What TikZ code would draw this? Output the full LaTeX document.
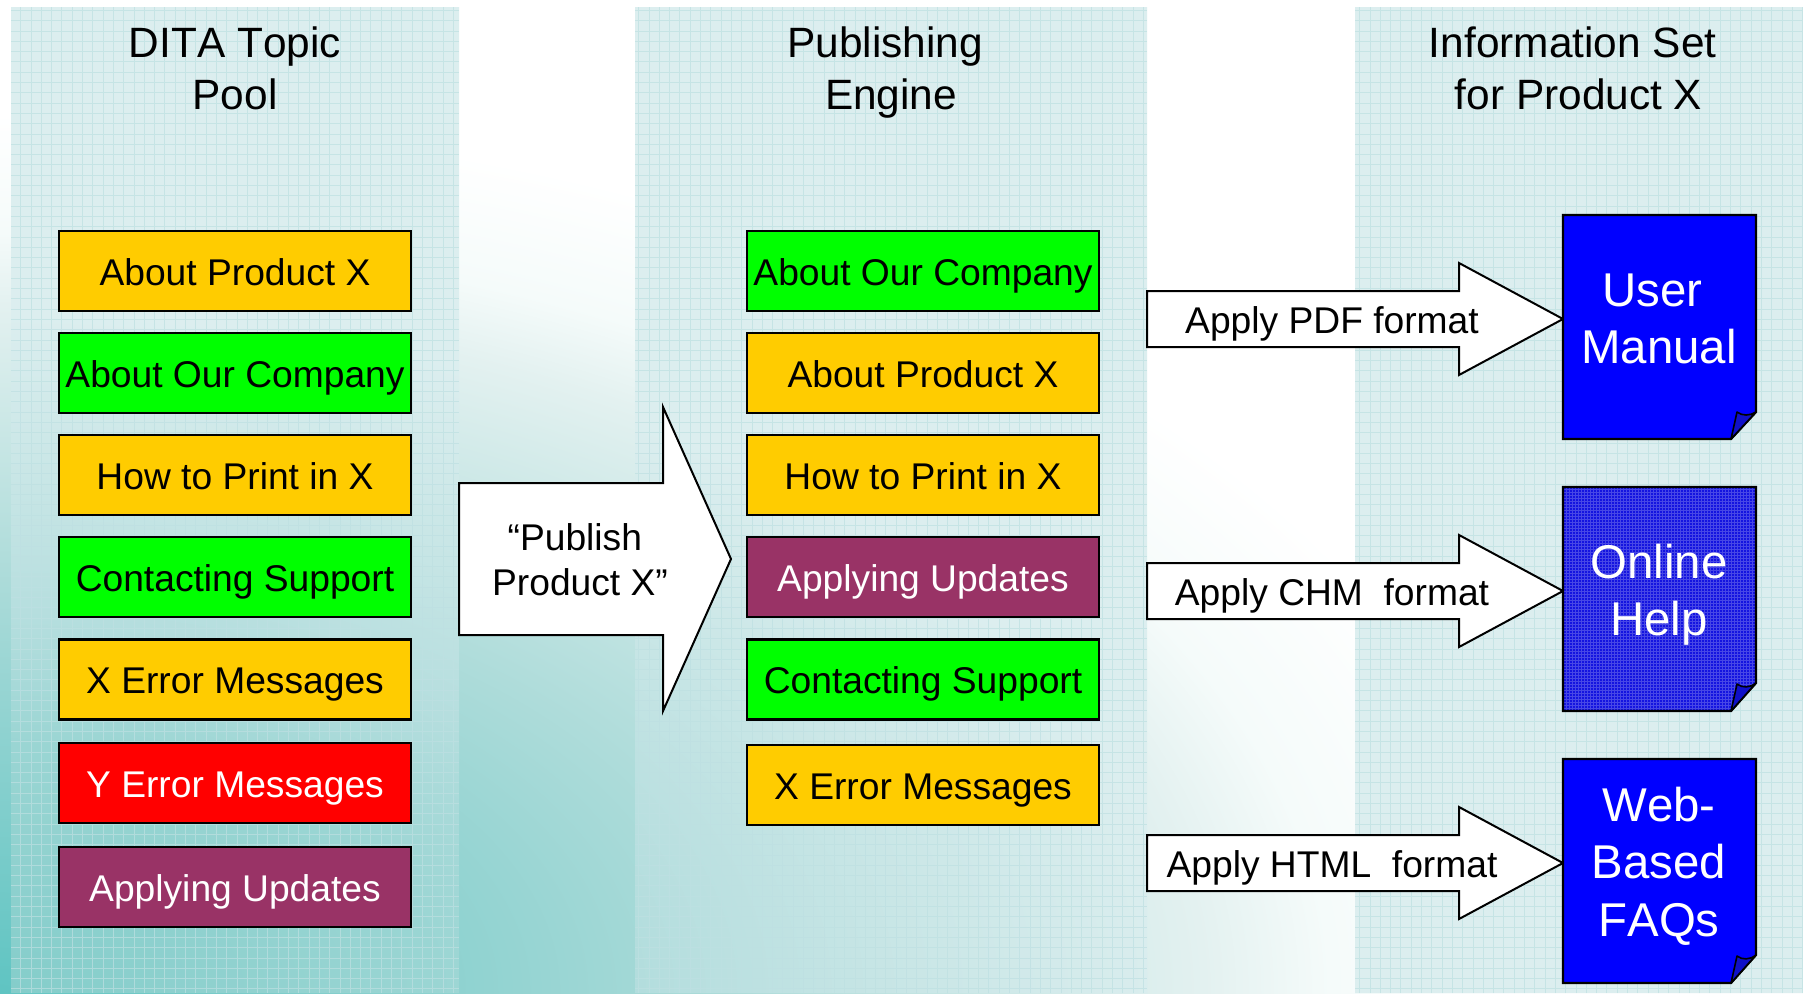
\documentclass[tikz,border=0pt]{standalone}
\usepackage{fontspec}
\setmainfont[Kerning=Off]{Liberation Sans}
\definecolor{gold}{HTML}{FFCC00}
\definecolor{lime}{HTML}{00FF00}
\definecolor{plum}{HTML}{993366}
\definecolor{docblue}{HTML}{0000FF}
\definecolor{hatchblue}{HTML}{1414E0}
\definecolor{curlblue}{HTML}{1010C8}
\definecolor{panelbase}{HTML}{DCEEEF}
\definecolor{gridline}{HTML}{BEE0E2}
\definecolor{bga}{HTML}{5FC4C2}
\definecolor{bgb}{HTML}{98D5D3}
\definecolor{bgc}{HTML}{AEDCDA}
\definecolor{bgd}{HTML}{E3F1F0}
\definecolor{bge}{HTML}{F5FBFA}
\definecolor{pa}{HTML}{84CDCA}
\definecolor{pb}{HTML}{9AD5D3}
\definecolor{pc}{HTML}{B5DEDE}
\definecolor{pd}{HTML}{C9E6E6}
\pgfdeclareradialshading{bgshade}{\pgfpoint{0bp}{0bp}}{
  color(0bp)=(bga);
  color(3.9bp)=(bgb);
  color(5.3bp)=(bgc);
  color(8.6bp)=(bgd);
  color(9.5bp)=(bge);
  color(11bp)=(white);
  color(50bp)=(white)}
\pgfdeclareradialshading{panelshade}{\pgfpoint{0bp}{0bp}}{
  color(0bp)=(pa);
  color(3.1bp)=(pb);
  color(4.7bp)=(pc);
  color(6.5bp)=(pd);
  color(8.5bp)=(panelbase);
  color(50bp)=(panelbase)}
\tikzset{
  topicbox/.style={draw=black,line width=2.2pt,minimum width=352pt,minimum height=80pt,
    inner sep=0pt,text height=32pt,text depth=4pt,font=\fontsize{37.2}{37.2}\selectfont},
  goldbox/.style={topicbox,fill=gold,text=black},
  greenbox/.style={topicbox,fill=lime,text=black},
  redbox/.style={topicbox,fill=red,text=white},
  plumbox/.style={topicbox,fill=plum,text=white},
  titletext/.style={align=center,anchor=base,inner sep=0pt,font=\fontsize{42.4}{52}\selectfont},
  arrowtext/.style={align=center,anchor=base,inner sep=0pt,font=\fontsize{37.2}{45}\selectfont},
  doctext/.style={align=center,anchor=base,inner sep=0pt,text=white,font=\fontsize{47.4}{57.5}\selectfont},
  blockarrow/.style={draw=black,fill=white,line width=2pt,line join=miter,miter limit=10},
  docshape/.style={draw=black,line width=2.2pt,line join=miter},
  curl/.style={draw=black,line width=1.6pt,fill=curlblue,line join=round},
  panelgrid/.style={gridline,opacity=.7,line width=.7pt,step=10.3pt}
}
\begin{document}
\begin{tikzpicture}[x=1pt,y=-1pt]
\useasboundingbox (0,0) rectangle (1803,993);
% background glow
\begin{scope}
  \clip (0,0) rectangle (1803,993);
  \shade[shading=bgshade] (0,993) ellipse [x radius=3500pt,y radius=2000pt];
\end{scope}
% panels
\begin{scope}
  \clip (11,7) rectangle (459,993) (635,7) rectangle (1147,993) (1355,7) rectangle (1803,993);
  \shade[shading=panelshade] (0,993) ellipse [x radius=3500pt,y radius=2000pt];
\end{scope}
\draw[panelgrid] (11,7) grid (459,993);
\draw[panelgrid] (635,7) grid (1147,993);
\draw[panelgrid] (1355,7) grid (1803,993);
% titles (anchored on the last line's baseline)
\node[titletext] (t1) at (235,109.5) {DITA Topic\\Pool};
\node[titletext] (t2) at (891,109.5) {Publishing\hspace*{11.7pt}\\Engine};
\node[titletext] (t3) at (1578.5,109.5) {Information Set\hspace*{11.7pt}\\for Product X};
% left column
\node[goldbox]  (l1) at (235,271)   {About Product X};
\node[greenbox] (l2) at (235,373)   {About Our Company};
\node[goldbox]  (l3) at (235,475)   {How to Print in X};
\node[greenbox] (l4) at (235,577)   {Contacting Support};
\node[goldbox]  (l5) at (235,679.5) {X Error Messages};
\node[redbox]   (l6) at (235,783)   {Y Error Messages};
\node[plumbox]  (l7) at (235,887)   {Applying Updates};
% middle column
\node[greenbox] (m1) at (923,271)   {About Our Company};
\node[goldbox]  (m2) at (923,373)   {About Product X};
\node[goldbox]  (m3) at (923,475)   {How to Print in X};
\node[plumbox]  (m4) at (923,577)   {Applying Updates};
\node[greenbox] (m5) at (923,679.5) {Contacting Support};
\node[goldbox]  (m6) at (923,785)   {X Error Messages};
% big arrow
\draw[blockarrow] (459,483) -- (663,483) -- (663,407) -- (731,559) -- (663,711) -- (663,635) -- (459,635) -- cycle;
\node[arrowtext] (pub) at (580,595) {“Publish\hspace*{10.3pt}\\Product X”};
% format arrows
\draw[blockarrow] (1147,291) -- (1459,291) -- (1459,263) -- (1563,319) -- (1459,375) -- (1459,347) -- (1147,347) -- cycle;
\node[arrowtext] (pdf) at (1332,333.5) {Apply PDF format};
\draw[blockarrow] (1147,563) -- (1459,563) -- (1459,535) -- (1563,591) -- (1459,647) -- (1459,619) -- (1147,619) -- cycle;
\node[arrowtext] (chm) at (1332,605) {Apply CHM\ \ format};
\draw[blockarrow] (1147,835) -- (1459,835) -- (1459,807) -- (1563,863) -- (1459,919) -- (1459,891) -- (1147,891) -- cycle;
\node[arrowtext] (html) at (1332,877) {Apply HTML\ \ format};
% documents
\draw[docshape,fill=docblue] (1563,215) -- (1756,215) -- (1756,412) -- (1731,439) -- (1563,439) -- cycle;
\draw[curl] (1731,439) -- (1737,412) .. controls (1742,416) and (1750,416) .. (1756,412) -- cycle;
\node[doctext] (d1) at (1659,363.5) {User\hspace*{13pt}\\Manual};

\fill[hatchblue] (1563,487) -- (1756,487) -- (1756,683) -- (1731,711) -- (1563,711) -- cycle;
\begin{scope}
  \clip (1563,487) -- (1756,487) -- (1756,683) -- (1731,711) -- (1563,711) -- cycle;
  \draw[white,opacity=.22,line width=.9pt,step=3pt] (1563,487) grid (1756,711);
\end{scope}
\draw[docshape] (1563,487) -- (1756,487) -- (1756,683) -- (1731,711) -- (1563,711) -- cycle;
\draw[curl] (1731,711) -- (1737,684) .. controls (1742,688) and (1750,688) .. (1756,683) -- cycle;
\node[doctext] (d2) at (1659,635.5) {Online\\Help};

\draw[docshape,fill=docblue] (1563,759) -- (1756,759) -- (1756,955) -- (1731,983) -- (1563,983) -- cycle;
\draw[curl] (1731,983) -- (1737,956) .. controls (1742,960) and (1750,960) .. (1756,955) -- cycle;
\node[doctext] (d3) at (1659,936) {Web-\\Based\\FAQs};
\end{tikzpicture}
\end{document}
